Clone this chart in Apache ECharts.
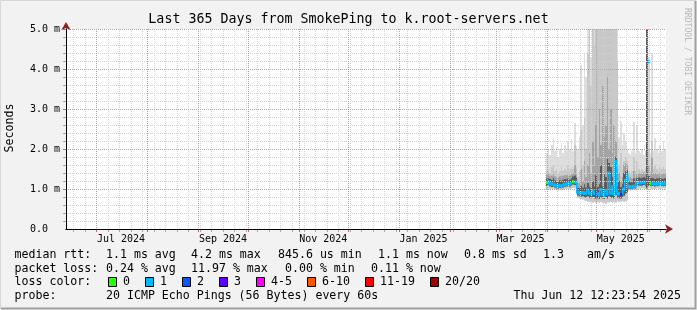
<!DOCTYPE html>
<html><head><meta charset="utf-8">
<script src="https://cdn.jsdelivr.net/npm/echarts@6/dist/echarts.min.js"></script>
<style>html,body{margin:0;padding:0;background:#f2f2f2}#c{width:697px;height:310px}</style>
</head><body><div id="c"></div>
<script>
// ---------- data ----------
const rangeStart = '2024-06-12T12:23:54Z';
const rangeDays = 365;
const dataStart = '2025-03-31T12:00:00Z';   // first daily column
const monthStarts = ['2024-07-01','2024-08-01','2024-09-01','2024-10-01','2024-11-01','2024-12-01',
                     '2025-01-01','2025-02-01','2025-03-01','2025-04-01','2025-05-01','2025-06-01'];
const labelDates = ['2024-07-16','2024-09-16','2024-11-16','2025-01-16','2025-03-16','2025-05-16'];
const labelTexts = ['Jul 2024','Sep 2024','Nov 2024','Jan 2025','Mar 2025','May 2025'];
const weekAnchor = '2024-06-17';
const yMajor = [1,2,3,4,5];
const yMinor = [0.2,0.4,0.6,0.8,1.2,1.4,1.6,1.8,2.2,2.4,2.6,2.8,3.2,3.4,3.6,3.8,4.2,4.4,4.6,4.8];

// median rtt (ms) per day
const median = [1.16,1.18,1.14,1.12,1.12,1.10,1.08,1.07,1.09,1.07,
  1.10,1.12,1.12,1.13,1.12,1.14,1.19,1.17,1.16,0.92,
  0.90,0.90,0.91,0.89,0.90,0.97,0.90,0.88,0.95,0.89,
  0.87,0.88,0.85,0.99,0.87,0.846,0.96,0.88,1.40,0.90,
  1.05,0.89,1.68,0.90,0.88,0.86,0.90,1.00,1.22,1.35,
  1.06,1.06,1.05,1.07,1.06,1.15,1.16,1.15,1.16,1.17,
  1.15,5.00,4.18,1.14,1.14,1.15,1.13,1.14,1.14,1.15,
  1.14,1.13,1.14];
// loss colour bucket index per day
const lossBucket = [0,1,1,1,1,1,1,1,1,0,
  1,1,1,1,1,1,0,1,1,1,
  1,1,1,1,1,1,1,1,1,1,
  2,1,1,1,1,1,1,1,1,1,
  1,1,1,1,1,3,1,1,1,1,
  1,1,1,1,1,1,1,1,1,1,
  1,7,1,0,1,1,1,1,1,1,
  1,1,1];
// smoke envelopes (ms)
const minP = [1.00,1.02,0.99,1.00,1.01,0.98,0.97,0.96,0.98,0.97,
  0.99,1.00,1.01,1.00,1.00,1.02,1.03,1.02,1.01,0.78,
  0.76,0.75,0.74,0.72,0.70,0.68,0.69,0.67,0.66,0.68,
  0.65,0.67,0.66,0.68,0.65,0.66,0.64,0.67,0.66,0.68,
  0.65,0.67,0.66,0.70,0.68,0.69,0.70,0.68,0.70,0.72,
  0.97,0.96,0.97,0.98,0.97,1.00,1.01,1.00,1.02,1.01,
  1.00,1.00,1.02,1.01,1.00,1.01,1.00,1.02,1.01,1.00,
  1.01,1.02,1.01];
const lowP = [1.08,1.10,1.07,1.05,1.06,1.04,1.02,1.01,1.03,1.02,
  1.04,1.06,1.06,1.07,1.06,1.08,1.11,1.10,1.09,0.84,
  0.82,0.81,0.82,0.80,0.79,0.82,0.78,0.77,0.80,0.77,
  0.76,0.77,0.75,0.79,0.76,0.75,0.80,0.76,0.82,0.78,
  0.80,0.77,0.85,0.78,0.77,0.76,0.79,0.83,0.88,0.92,
  1.01,1.00,1.00,1.02,1.01,1.08,1.09,1.08,1.09,1.10,
  1.08,1.02,1.08,1.08,1.08,1.09,1.07,1.08,1.08,1.09,
  1.08,1.07,1.08];
const nearP = [1.26,1.28,1.25,1.23,1.28,1.22,1.20,1.19,1.22,1.20,
  1.23,1.25,1.24,1.26,1.24,1.27,1.31,1.34,1.28,1.03,
  1.02,1.08,1.03,1.12,1.04,1.15,1.06,1.03,1.20,1.06,
  1.35,1.05,1.12,1.60,1.06,1.40,1.30,1.75,1.65,1.55,
  1.30,1.08,1.80,1.06,1.20,1.05,1.12,1.40,1.45,1.48,
  1.18,1.20,1.17,1.26,1.19,1.28,1.29,1.27,1.28,1.30,
  1.27,5.00,1.33,1.26,1.28,1.27,1.25,1.27,1.26,1.28,
  1.26,1.25,1.27];
const upP = [1.36,1.38,1.34,1.33,1.38,1.32,1.30,1.29,1.32,1.31,
  1.33,1.35,1.34,1.36,1.34,1.37,1.40,1.60,1.38,1.15,
  1.15,1.50,1.20,1.70,1.30,1.60,1.90,1.40,2.20,1.60,
  2.60,1.80,3.00,2.10,3.60,2.30,2.60,3.80,2.00,3.00,
  1.90,2.60,2.20,1.50,1.40,1.20,1.30,1.60,1.65,1.60,
  1.28,1.30,1.27,1.45,1.29,1.40,1.39,1.38,1.39,1.41,
  1.38,5.00,1.60,1.36,1.80,1.38,1.40,1.37,1.36,1.39,
  1.37,1.38,1.38];
const midP = [1.45,1.50,1.40,1.55,1.60,1.45,1.50,1.40,1.45,1.55,
  1.45,1.50,1.45,1.60,1.50,1.55,1.50,2.10,1.55,1.30,
  1.45,2.50,1.60,2.80,2.00,4.40,5.00,3.60,5.00,4.60,
  5.00,5.00,5.00,5.00,5.00,5.00,5.00,5.00,5.00,5.00,
  5.00,5.00,5.00,4.20,1.60,1.90,1.50,1.70,1.80,1.70,
  1.45,1.40,1.45,1.80,1.45,1.70,1.50,1.45,1.50,1.45,
  1.50,5.00,2.00,1.45,2.20,1.50,1.60,1.50,1.45,1.55,
  1.50,1.55,1.50];
const maxP = [1.90,2.00,1.85,2.10,2.27,1.95,2.05,1.80,2.00,2.15,
  1.90,2.10,1.95,2.20,2.00,2.25,1.95,2.65,2.05,2.00,
  2.30,4.10,2.60,4.40,3.80,5.00,5.00,4.30,5.00,5.00,
  5.00,5.00,5.00,5.00,5.00,5.00,5.00,5.00,5.00,5.00,
  5.00,5.00,5.00,5.00,2.30,2.70,2.10,2.40,2.20,2.00,
  1.90,1.85,1.95,2.68,1.90,2.60,1.95,1.90,2.00,1.85,
  1.95,5.00,4.30,1.90,4.40,1.95,2.27,2.00,1.90,2.10,
  1.95,2.20,2.00];

const lossLabels = ['0','1','2','3','4-5','6-10','11-19','20/20'];
const lossColors = ['#26ff00','#00b8ff','#0059ff','#5e00ff','#ff00ff','#ff5500','#ff0000','#a00000'];
const statRtt = ['1.1 ms avg','4.2 ms max','845.6 us min','1.1 ms now','0.8 ms sd','1.3','am/s'];
const statLoss = ['0.24 % avg','11.97 % max','0.00 % min','0.11 % now'];
const probeText = '20 ICMP Echo Pings (56 Bytes) every 60s';
const stampText = 'Thu Jun 12 12:23:54 2025';
const titleText = 'Last 365 Days from SmokePing to k.root-servers.net';

// ---------- helpers ----------
const DAY = 864e5;
const t0 = Date.parse(rangeStart);
const dayOf = s => (Date.parse(s.length === 10 ? s + 'T00:00:00Z' : s) - t0) / DAY;
const d0 = dayOf(dataStart);
const MONO = '"DejaVu Sans Mono", monospace';

const chart = echarts.init(document.getElementById('c'), null, {renderer: 'canvas'});

function band(lo, hi, color, z) {
  return {
    type: 'custom', z: z, silent: true, clip: true,
    encode: {x: 0, y: [1, 2]},
    data: lo.map((v, i) => [d0 + i, v, hi[i]]),
    renderItem: (p, api) => {
      const a = api.coord([api.value(0), api.value(2)]);
      const b = api.coord([api.value(0) + 1, api.value(1)]);
      const x0 = Math.round(a[0]), x1 = Math.round(b[0]);
      return {type: 'rect', shape: {x: x0, y: a[1], width: x1 - x0, height: b[1] - a[1]}, style: {fill: color}};
    }
  };
}

const medData = median.map((v, i) => [d0 + i, v, lossBucket[i],
  (i + 1 < median.length && lossBucket[i + 1] === lossBucket[i]) ? median[i + 1] : -1]);

const medianSeries = {
  type: 'custom', z: 6, silent: true, clip: true,
  encode: {x: 0, y: 1},
  data: medData,
  renderItem: (p, api) => {
    const x = api.value(0), v = api.value(1), c = lossColors[api.value(2)], nx = api.value(3);
    const a = api.coord([x, v]), b = api.coord([x + 1, v]);
    const x0 = Math.round(a[0]), x1 = Math.round(b[0]);
    const ch = [{type: 'rect', shape: {x: x0, y: a[1] - 1.5, width: x1 - x0, height: 3}, style: {fill: c}}];
    if (nx >= 0) {
      const n = api.coord([x + 1, nx]);
      const top = Math.min(a[1], n[1]) - 1.5, bot = Math.max(a[1], n[1]) + 1.5;
      ch.push({type: 'rect', shape: {x: x1 - 1, y: top, width: 1.5, height: bot - top}, style: {fill: c}});
    }
    return {type: 'group', children: ch};
  }
};

// grid lines (drawn on top like rrdtool)
const weekDays = [];
for (let w = dayOf(weekAnchor); w < rangeDays; w += 7) weekDays.push(w);
const monthDays = monthStarts.map(dayOf);
const MINOR = '#d2d2d2', MAJOR = '#f08a8a';

function gridLines(items, vertical, color, tickColor, z) {
  return {
    type: 'custom', z: z, silent: true, encode: {x: 0, y: 1},
    data: items.map(v => vertical ? [v, 0] : [0, v]),
    renderItem: (p, api) => {
      let seg, tick;
      if (vertical) {
        const a = api.coord([api.value(0), 5]), b = api.coord([api.value(0), 0]);
        const x = Math.round(a[0]) + 0.5;
        seg = {x1: x, y1: a[1], x2: x, y2: b[1]};
        tick = {x1: x, y1: b[1], x2: x, y2: b[1] + 3};
      } else {
        const a = api.coord([0, api.value(1)]), b = api.coord([rangeDays, api.value(1)]);
        const y = Math.round(a[1]) + 0.5;
        seg = {x1: a[0], y1: y, x2: b[0], y2: y};
        tick = {x1: a[0] - 3, y1: y, x2: a[0], y2: y};
      }
      return {type: 'group', children: [
        {type: 'line', shape: seg, style: {stroke: color, lineWidth: 1, lineDash: [1, 1], fill: null}},
        {type: 'line', shape: tick, style: {stroke: tickColor, lineWidth: 1, fill: null}}
      ]};
    }
  };
}

const labelDays = labelDates.map(dayOf);
const labelFor = v => { for (let i = 0; i < labelDays.length; i++) if (Math.abs(labelDays[i] - v) < 0.01) return labelTexts[i]; return ''; };

// ---------- legend / text (graphic) ----------
const FS = 11.6, CW = 7;
const rowY = [254.5, 268.5, 282, 296];
const g = [];
function txt(s, x, y, extra) {
  g.push(Object.assign({type: 'text', x: x, y: y, silent: true,
    style: {text: s, fill: '#000', font: FS + 'px ' + MONO, textAlign: 'left', textVerticalAlign: 'middle'}}, extra || {}));
}
txt('median rtt:', 14.5, rowY[0]);
const rttX = [106, 191, 278, 378, 464, 543, 587];
statRtt.forEach((s, i) => txt(s, rttX[i], rowY[0]));
txt('packet loss:', 14.5, rowY[1]);
const lossX = [106, 191, 285, 371];
statLoss.forEach((s, i) => txt(s, lossX[i], rowY[1]));
txt('loss color:', 14.5, rowY[2]);
let bx = 108;
lossLabels.forEach((s, i) => {
  g.push({type: 'rect', silent: true, shape: {x: bx + 0.5, y: rowY[2] - 4.5, width: 8, height: 9},
    style: {fill: lossColors[i], stroke: '#000', lineWidth: 1}});
  txt(s, bx + 15, rowY[2]);
  bx = bx + 15 + s.length * CW + 15;
});
txt('probe:', 14.5, rowY[3]);
txt(probeText, 106, rowY[3]);
g.push({type: 'text', x: 681, y: rowY[3], silent: true,
  style: {text: stampText, fill: '#000', font: FS + 'px ' + MONO, textAlign: 'right', textVerticalAlign: 'middle'}});
g.push({type: 'text', x: 10, y: 128, rotation: Math.PI / 2, silent: true,
  style: {text: 'Seconds', fill: '#000', font: FS + 'px ' + MONO, textAlign: 'center', textVerticalAlign: 'middle'}});
g.push({type: 'text', x: 687, y: 8, rotation: -Math.PI / 2, silent: true,
  style: {text: 'RRDTOOL / TOBI OETIKER', fill: '#b8b8b8', font: '8.1px ' + MONO, textAlign: 'left', textVerticalAlign: 'middle'}});
// 3D frame
g.push({type: 'polyline', silent: true, shape: {points: [[0.5, 309], [0.5, 0.5], [696, 0.5]]}, style: {stroke: '#d6d6d6', lineWidth: 1, fill: null}});
g.push({type: 'polyline', silent: true, shape: {points: [[1, 308.5], [695.5, 308.5], [695.5, 1]]}, style: {stroke: '#a0a0a0', lineWidth: 2, fill: null}});

const axisFont = {fontFamily: MONO, fontSize: 10, color: '#000'};

chart.setOption({
  animation: false,
  backgroundColor: '#f2f2f2',
  title: {text: titleText, left: 'center', top: 13, padding: 0,
    textStyle: {fontFamily: MONO, fontSize: 13.3, fontWeight: 'normal', color: '#000'}},
  grid: {left: 66, top: 29, width: 600, height: 200, show: true, backgroundColor: '#ffffff', borderWidth: 0},
  xAxis: [
    {type: 'value', min: 0, max: rangeDays, z: 10,
     axisLine: {show: true, onZero: false, lineStyle: {color: '#000', width: 1}},
     axisTick: {show: false}, splitLine: {show: false},
     axisLabel: Object.assign({customValues: labelDays, formatter: labelFor, margin: 5, showMinLabel: true, showMaxLabel: true}, axisFont)},
    {type: 'value', min: 0, max: rangeDays, z: 9, position: 'bottom',
     axisLine: {show: true, onZero: false, symbol: ['none', 'arrow'], symbolSize: [7, 8], symbolOffset: [0, 7], lineStyle: {color: '#8f1f1f', width: 1}},
     axisTick: {show: false}, splitLine: {show: false}, axisLabel: {show: false}}
  ],
  yAxis: [
    {type: 'value', min: 0, max: 5, interval: 1, z: 10,
     axisLine: {show: true, onZero: false, lineStyle: {color: '#000', width: 1}},
     axisTick: {show: false}, splitLine: {show: false},
     axisLabel: Object.assign({align: 'left', margin: 36, formatter: v => v === 0 ? '0.0' : v.toFixed(1) + ' m'}, axisFont)},
    {type: 'value', min: 0, max: 5, interval: 1, z: 9, position: 'left',
     axisLine: {show: true, onZero: false, symbol: ['none', 'arrow'], symbolSize: [7, 8], symbolOffset: [0, 7], lineStyle: {color: '#8f1f1f', width: 1}},
     axisTick: {show: false}, splitLine: {show: false}, axisLabel: {show: false}}
  ],
  series: [
    band(minP, maxP, '#dedede', 2),
    band(minP, midP, '#c8c8c8', 3),
    band(lowP, upP, '#a4a4a4', 4),
    band(lowP, nearP, '#5c5c5c', 5),
    medianSeries,
    gridLines(weekDays, true, MINOR, '#aaaaaa', 8),
    gridLines(yMinor, false, MINOR, '#aaaaaa', 8),
    gridLines(monthDays, true, MAJOR, '#e06060', 9),
    gridLines(yMajor, false, MAJOR, '#e06060', 9)
  ],
  graphic: g
});
</script>
</body></html>
